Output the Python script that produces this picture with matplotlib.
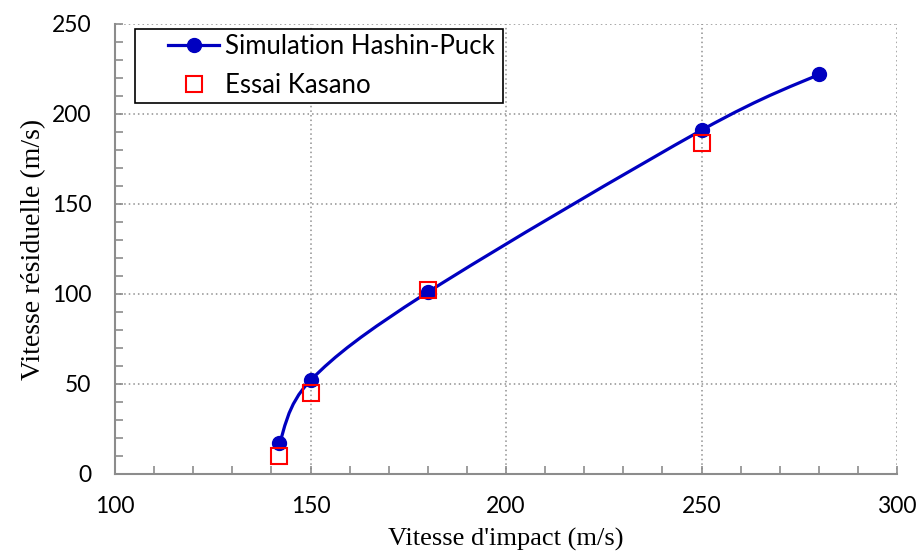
import numpy as np
import matplotlib.pyplot as plt
from matplotlib.path import Path
from matplotlib.patches import PathPatch, Rectangle
from matplotlib.lines import Line2D

# data
v_impact_sim = [142, 150, 180, 250, 280]
v_resid_sim = [17, 52, 101, 191, 222]

v_impact_essai = [142, 150, 180, 250]
v_resid_essai = [10, 45, 102, 184]

blue = '#0000C0'
grey = '#8C8C8C'


def smooth_path(xs, ys):
    # Excel-like smoothed line: cubic Bezier through each point
    pts = np.column_stack([xs, ys]).astype(float)
    n = len(pts)
    verts = [pts[0]]
    codes = [Path.MOVETO]
    for i in range(n - 1):
        p0 = pts[i - 1] if i > 0 else pts[i]
        p1 = pts[i]
        p2 = pts[i + 1]
        p3 = pts[i + 2] if i + 2 < n else pts[i + 1]
        c1 = p1 + (p2 - p0) / 6
        c2 = p2 - (p3 - p1) / 6
        verts += [c1, c2, p2]
        codes += [Path.CURVE4] * 3
    return Path(verts, codes)


fig = plt.figure(figsize=(9.19, 5.58), dpi=100)
ax = fig.add_axes([115 / 919, 1 - 474 / 558, 782 / 919, 450 / 558])

ax.set_xlim(100, 300)
ax.set_ylim(0, 250)

patch = PathPatch(smooth_path(v_impact_sim, v_resid_sim), facecolor='none',
                  edgecolor=blue, lw=2.3, zorder=3)
ax.add_patch(patch)
ax.plot(v_impact_sim, v_resid_sim, 'o', color=blue, ms=10, zorder=4, clip_on=False)
ax.plot(v_impact_essai, v_resid_essai, 's', mfc='none', mec='#FF0000', mew=1.5,
        ms=11, zorder=5, clip_on=False)

ax.set_xticks(np.arange(100, 301, 50))
ax.set_yticks(np.arange(0, 251, 50))
ax.set_xticks(np.arange(100, 301, 10), minor=True)
ax.set_yticks(np.arange(0, 251, 10), minor=True)
ax.tick_params(which='both', direction='in', color=grey, length=6, width=1.2,
               top=False, right=False)
ax.tick_params(which='major', labelsize=16.5)
ax.tick_params(axis='x', which='major', pad=16)
ax.tick_params(axis='y', which='major', pad=17)
for lab in ax.get_xticklabels() + ax.get_yticklabels():
    lab.set_family('Lato')

ax.grid(True, which='major', ls=(0, (1, 2)), color='#909090', lw=1.1)
ax.spines['top'].set_visible(False)
ax.spines['right'].set_visible(False)
ax.spines['left'].set_color(grey)
ax.spines['bottom'].set_color(grey)
ax.spines['left'].set_linewidth(1.5)
ax.spines['bottom'].set_linewidth(1.5)

ax.set_xlabel("Vitesse d'impact (m/s)", family='Liberation Serif', fontsize=19, labelpad=8)
ax.set_ylabel("Vitesse résiduelle (m/s)", family='Liberation Serif', fontsize=20, labelpad=4)

# legend frame drawn separately (Excel leaves a wide margin left of the keys)
frame = Rectangle((0.0256, 0.824), 0.4706, 0.165, transform=ax.transAxes,
                  facecolor='white', edgecolor='black', lw=1.2, zorder=6)
ax.add_patch(frame)

handles = [
    Line2D([], [], color=blue, lw=2.3, marker='o', ms=10),
    Line2D([], [], ls='none', marker='s', mfc='none', mec='#FF0000', mew=1.5, ms=11),
]
leg = ax.legend(handles, ['Simulation Hashin-Puck', 'Essai Kasano'],
                loc='upper left', bbox_to_anchor=(0.0678, 0.978), frameon=False,
                prop={'family': 'Lato', 'size': 18.5}, borderaxespad=0, borderpad=0,
                handlelength=2.0, handletextpad=0.2, labelspacing=0.56)
leg.set_zorder(7)

fig.savefig('out.png', dpi=100)
